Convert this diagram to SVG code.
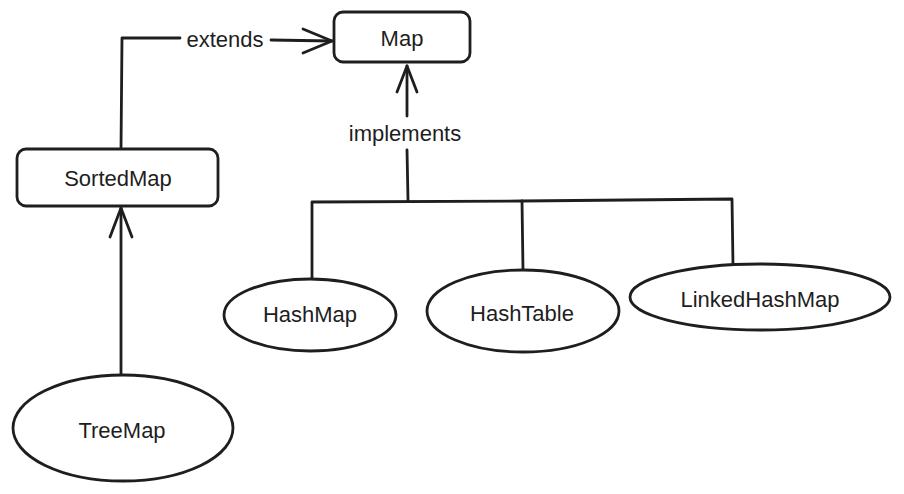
<svg xmlns="http://www.w3.org/2000/svg" width="904" height="494" viewBox="0 0 904 494">
<style>
.s{fill:none;stroke:#1e1e1e;stroke-width:2.8;stroke-linecap:round;stroke-linejoin:round}
.n{fill:#ffffff;stroke:#1e1e1e;stroke-width:2.8}
.t{font-family:"Liberation Sans",Arial,sans-serif;font-size:22px;fill:#1e1e1e;text-anchor:middle;dominant-baseline:central}
</style>
<rect width="904" height="494" fill="#ffffff"/>
<g id="connectors">
<path class="s" d="M121,149 L122,38 L180,38"/>
<path class="s" d="M271,40 L332,41"/>
<path class="s" d="M303,29 L332,41 L303,53"/>
<path class="s" d="M407,116 L407,66"/>
<path class="s" d="M397,92 L407,66 L417,92"/>
<path class="s" d="M407,150 L408,200"/>
<path class="s" d="M312,278 L312,202 L522,201 L732,199 L733,265"/>
<path class="s" d="M522,201 L523,270"/>
<path class="s" d="M121,375 L121,208"/>
<path class="s" d="M110,237 L121,208 L132,237"/>
<text class="t" x="225" y="39">extends</text>
<text class="t" x="405" y="133">implements</text>
</g>
<g id="map">
<rect class="n" x="334" y="12" width="136" height="50" rx="9"/>
<text class="t" x="402" y="38">Map</text>
</g>
<g id="sortedmap">
<rect class="n" x="17" y="149" width="201" height="57" rx="9"/>
<text class="t" x="118" y="178">SortedMap</text>
</g>
<g id="hashmap">
<ellipse class="n" cx="310" cy="315" rx="86" ry="36"/>
<text class="t" x="310" y="314">HashMap</text>
</g>
<g id="hashtable">
<ellipse class="n" cx="523" cy="311" rx="96" ry="41"/>
<text class="t" x="522" y="313">HashTable</text>
</g>
<g id="linkedhashmap">
<ellipse class="n" cx="760" cy="297" rx="130" ry="33"/>
<text class="t" x="760" y="299">LinkedHashMap</text>
</g>
<g id="treemap">
<ellipse class="n" cx="123" cy="428" rx="110" ry="53"/>
<text class="t" x="122" y="430">TreeMap</text>
</g>
</svg>
